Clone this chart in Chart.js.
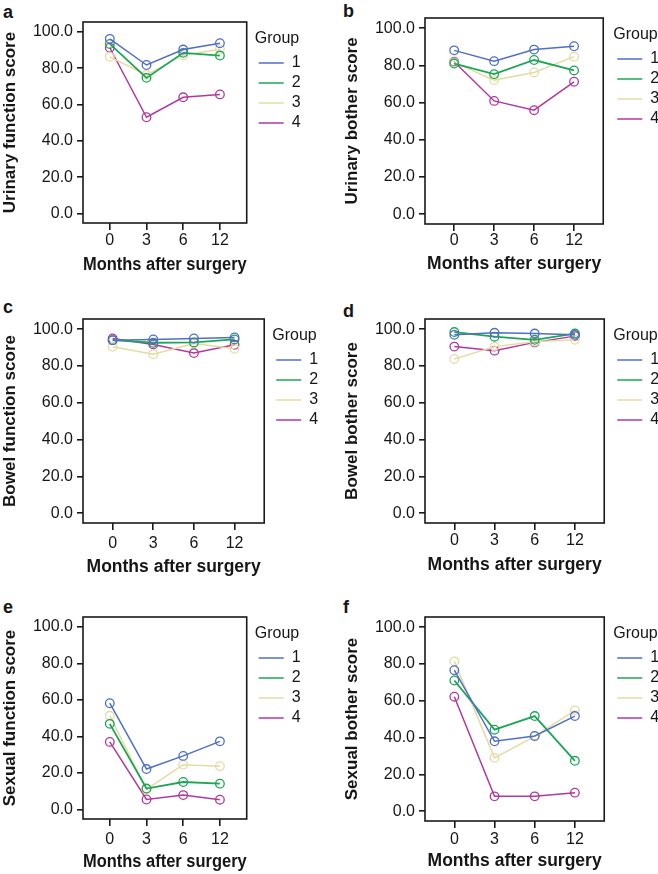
<!DOCTYPE html>
<html>
<head>
<meta charset="utf-8">
<script src="https://cdn.jsdelivr.net/npm/chart.js@4.4.0/dist/chart.umd.min.js"></script>
<style>
  body { margin: 0; background: #fff; }
  #figura { position: relative; width: 658px; height: 874px; overflow: hidden; font-family: "Liberation Sans", Arial, sans-serif; }
  #figura canvas { position: absolute; }
  .letra { position: absolute; font-weight: bold; font-size: 18px; line-height: 18px; color: #161616; }
</style>
</head>
<body>
<div id="figura">
  <div class="letra" style="left:3px;top:3px">a</div>
  <div class="letra" style="left:343px;top:2px">b</div>
  <div class="letra" style="left:3px;top:298px">c</div>
  <div class="letra" style="left:343px;top:302px">d</div>
  <div class="letra" style="left:3px;top:598px">e</div>
  <div class="letra" style="left:343px;top:598px">f</div>
  <canvas id="painelA"></canvas>
  <canvas id="painelB"></canvas>
  <canvas id="painelC"></canvas>
  <canvas id="painelD"></canvas>
  <canvas id="painelE"></canvas>
  <canvas id="painelF"></canvas>
</div>
<script>
// DADOS
const months = ["0", "3", "6", "12"];
const groups = ["1", "2", "3", "4"];
const yTicks = [0, 20, 40, 60, 80, 100];

// uma linha por grupo (1..4), uma coluna por mes
const urinaryFunction = [
    [96.2, 81.8, 90.3, 93.8],
    [93.4, 74.7, 88.5, 87.0],
    [86.3, 76.4, 87.2, 90.5],
    [91.3, 53.0, 64.0, 65.6]
];
const urinaryBother = [
    [88.1, 82.3, 88.5, 90.3],
    [81.0, 75.3, 82.9, 77.3],
    [81.6, 72.1, 76.2, 84.7],
    [82.0, 60.9, 55.9, 71.2]
];
const bowelFunction = [
    [94.0, 94.4, 94.9, 95.5],
    [94.0, 92.6, 92.8, 94.4],
    [90.4, 86.4, 92.2, 89.3],
    [94.9, 91.7, 87.0, 91.5]
];
const bowelBother = [
    [96.9, 98.0, 97.6, 96.9],
    [98.4, 95.9, 94.2, 97.6],
    [83.8, 90.5, 93.2, 94.2],
    [90.5, 88.3, 92.8, 96.2]
];
const sexualFunction = [
    [58.2, 22.1, 29.3, 37.3],
    [46.9, 11.4, 15.0, 14.1],
    [51.3, 10.9, 24.5, 23.7],
    [37.0, 5.4, 7.8, 5.3]
];
const sexualBother = [
    [76.6, 38.0, 40.9, 51.7],
    [71.0, 44.3, 51.7, 27.4],
    [81.4, 29.0, 40.7, 54.8],
    [62.2, 8.1, 8.1, 10.1]
];

// ESTILO
const groupColors = ["#4f6fc8", "#1ea656", "#e4dca4", "#b0399e"];
const corTexto = "#161616";
const fonte = "Liberation Sans";

Chart.defaults.font.family = fonte;
Chart.defaults.color = corTexto;

// largura aproximada da legenda (so para reservar espaco no canvas)
function larguraLegenda() {
    const ctx = document.createElement("canvas").getContext("2d");
    ctx.font = "16px " + fonte;
    let maior = 0;
    groups.forEach(function (g) { maior = Math.max(maior, ctx.measureText(g).width); });
    return 4 + 25 + 8 + maior + 10;
}
const legendaW = larguraLegenda();

// desenha a caixa em volta da area do grafico
const moldura = {
    id: "moldura",
    beforeDatasetsDraw(chart) {
        const a = chart.chartArea;
        const ctx = chart.ctx;
        ctx.save();
        ctx.strokeStyle = "#1a1a1a";
        ctx.lineWidth = 1.6;
        ctx.strokeRect(a.left, a.top, a.right - a.left, a.bottom - a.top);
        ctx.restore();
    }
};

function criarPainel(p) {
    const canvas = document.getElementById(p.id);
    const largura = Math.ceil((p.boxRight - p.left) + p.gap + legendaW + 10);
    canvas.width = largura;
    canvas.height = p.height;
    canvas.style.left = p.left + "px";
    canvas.style.top = p.top + "px";

    const alturaEixoX = p.titleOff + 10.2;
    const padTop = p.boxTop - p.top;
    const padBottom = p.height - (p.boxBottom - p.top) - alturaEixoX;
    const padRight = largura - (p.boxRight - p.left) - p.gap - legendaW;

    const datasets = groups.map(function (g, i) {
        return {
            label: g,
            data: p.values[i].map(function (v, k) { return {x: k, y: v}; }),
            borderColor: groupColors[i],
            backgroundColor: groupColors[i],
            borderWidth: i == 1 ? 1.8 : 1.5,
            pointStyle: "circle",
            pointRadius: 4.3,
            pointBorderWidth: 1.3,
            pointBackgroundColor: "rgba(0,0,0,0)",
            pointBorderColor: groupColors[i],
            tension: 0
        };
    });

    const grafico = new Chart(canvas, {
        type: "line",
        data: {datasets: datasets},
        options: {
            responsive: false,
            animation: false,
            layout: {padding: {top: padTop, left: 0, right: padRight, bottom: padBottom}},
            scales: {
                x: {
                    type: "linear",
                    min: -0.73,
                    max: 3.73,
                    afterBuildTicks: function (s) { s.ticks = months.map(function (m, k) { return {value: k}; }); },
                    afterFit: function (s) { s.height = alturaEixoX; },
                    ticks: {
                        callback: function (v) { return months[v]; },
                        font: {size: 16},
                        padding: p.labelPad,
                        maxRotation: 0,
                        autoSkip: false
                    },
                    grid: {drawOnChartArea: false, tickLength: 7, color: "#1a1a1a", lineWidth: 1.6},
                    border: {display: false},
                    title: {display: true, text: "Months after surgery", font: {size: 17.5, weight: "bold"}, padding: 0}
                },
                y: {
                    min: -5.3,
                    max: 105.5,
                    afterBuildTicks: function (s) { s.ticks = yTicks.map(function (v) { return {value: v}; }); },
                    afterFit: function (s) { s.width = 83; },
                    ticks: {
                        callback: function (v) { return v.toFixed(1); },
                        font: {size: 16},
                        padding: 4
                    },
                    grid: {drawOnChartArea: false, tickLength: 6, color: "#1a1a1a", lineWidth: 1.6},
                    border: {display: false},
                    title: {display: true, text: p.yTitle, font: {size: 17, weight: "bold"}, padding: 0}
                },
                // espaco entre a caixa e a legenda
                folga: {
                    position: "right",
                    ticks: {display: false},
                    grid: {display: false},
                    border: {display: false},
                    afterFit: function (s) { s.width = p.gap; }
                }
            },
            plugins: {
                tooltip: {enabled: false},
                legend: {
                    position: "right",
                    align: "start",
                    title: {
                        display: true,
                        text: "Group",
                        position: "start",
                        color: corTexto,
                        font: {size: 16},
                        padding: {top: 8.5, bottom: 1.3}
                    },
                    labels: {
                        usePointStyle: true,
                        pointStyle: "line",
                        pointStyleWidth: 25,
                        padding: 4,
                        color: corTexto,
                        font: {size: 16}
                    }
                }
            }
        },
        plugins: [moldura]
    });

    // corrige a diferenca entre a largura estimada e a real da legenda
    const erro = grafico.chartArea.right - (p.boxRight - p.left);
    if (Math.abs(erro) > 0.1) {
        grafico.options.layout.padding.right = padRight + erro;
        grafico.update();
    }
}

// - Paineis -
criarPainel({id: "painelA", left: 0, top: 0, height: 290, boxTop: 22, boxBottom: 223, boxRight: 246, gap: 8,
    labelPad: 1.4, titleOff: 42, yTitle: "Urinary function score", values: urinaryFunction});
criarPainel({id: "painelB", left: 342, top: 0, height: 290, boxTop: 18, boxBottom: 224, boxRight: 603, gap: 10,
    labelPad: 0.4, titleOff: 40, yTitle: "Urinary bother score", values: urinaryBother});
criarPainel({id: "painelC", left: 0, top: 290, height: 290, boxTop: 319, boxBottom: 523, boxRight: 264, gap: 8,
    labelPad: 3.9, titleOff: 44, yTitle: "Bowel function score", values: bowelFunction});
criarPainel({id: "painelD", left: 342, top: 290, height: 290, boxTop: 319, boxBottom: 523, boxRight: 604, gap: 9,
    labelPad: 0.9, titleOff: 42.5, yTitle: "Bowel bother score", values: bowelBother});
criarPainel({id: "painelE", left: 0, top: 580, height: 294, boxTop: 617, boxBottom: 819, boxRight: 246, gap: 8,
    labelPad: 3.9, titleOff: 43.5, yTitle: "Sexual function score", values: sexualFunction});
criarPainel({id: "painelF", left: 342, top: 580, height: 294, boxTop: 617, boxBottom: 821, boxRight: 604, gap: 9,
    labelPad: 1.9, titleOff: 40, yTitle: "Sexual bother score", values: sexualBother});
</script>
</body>
</html>
